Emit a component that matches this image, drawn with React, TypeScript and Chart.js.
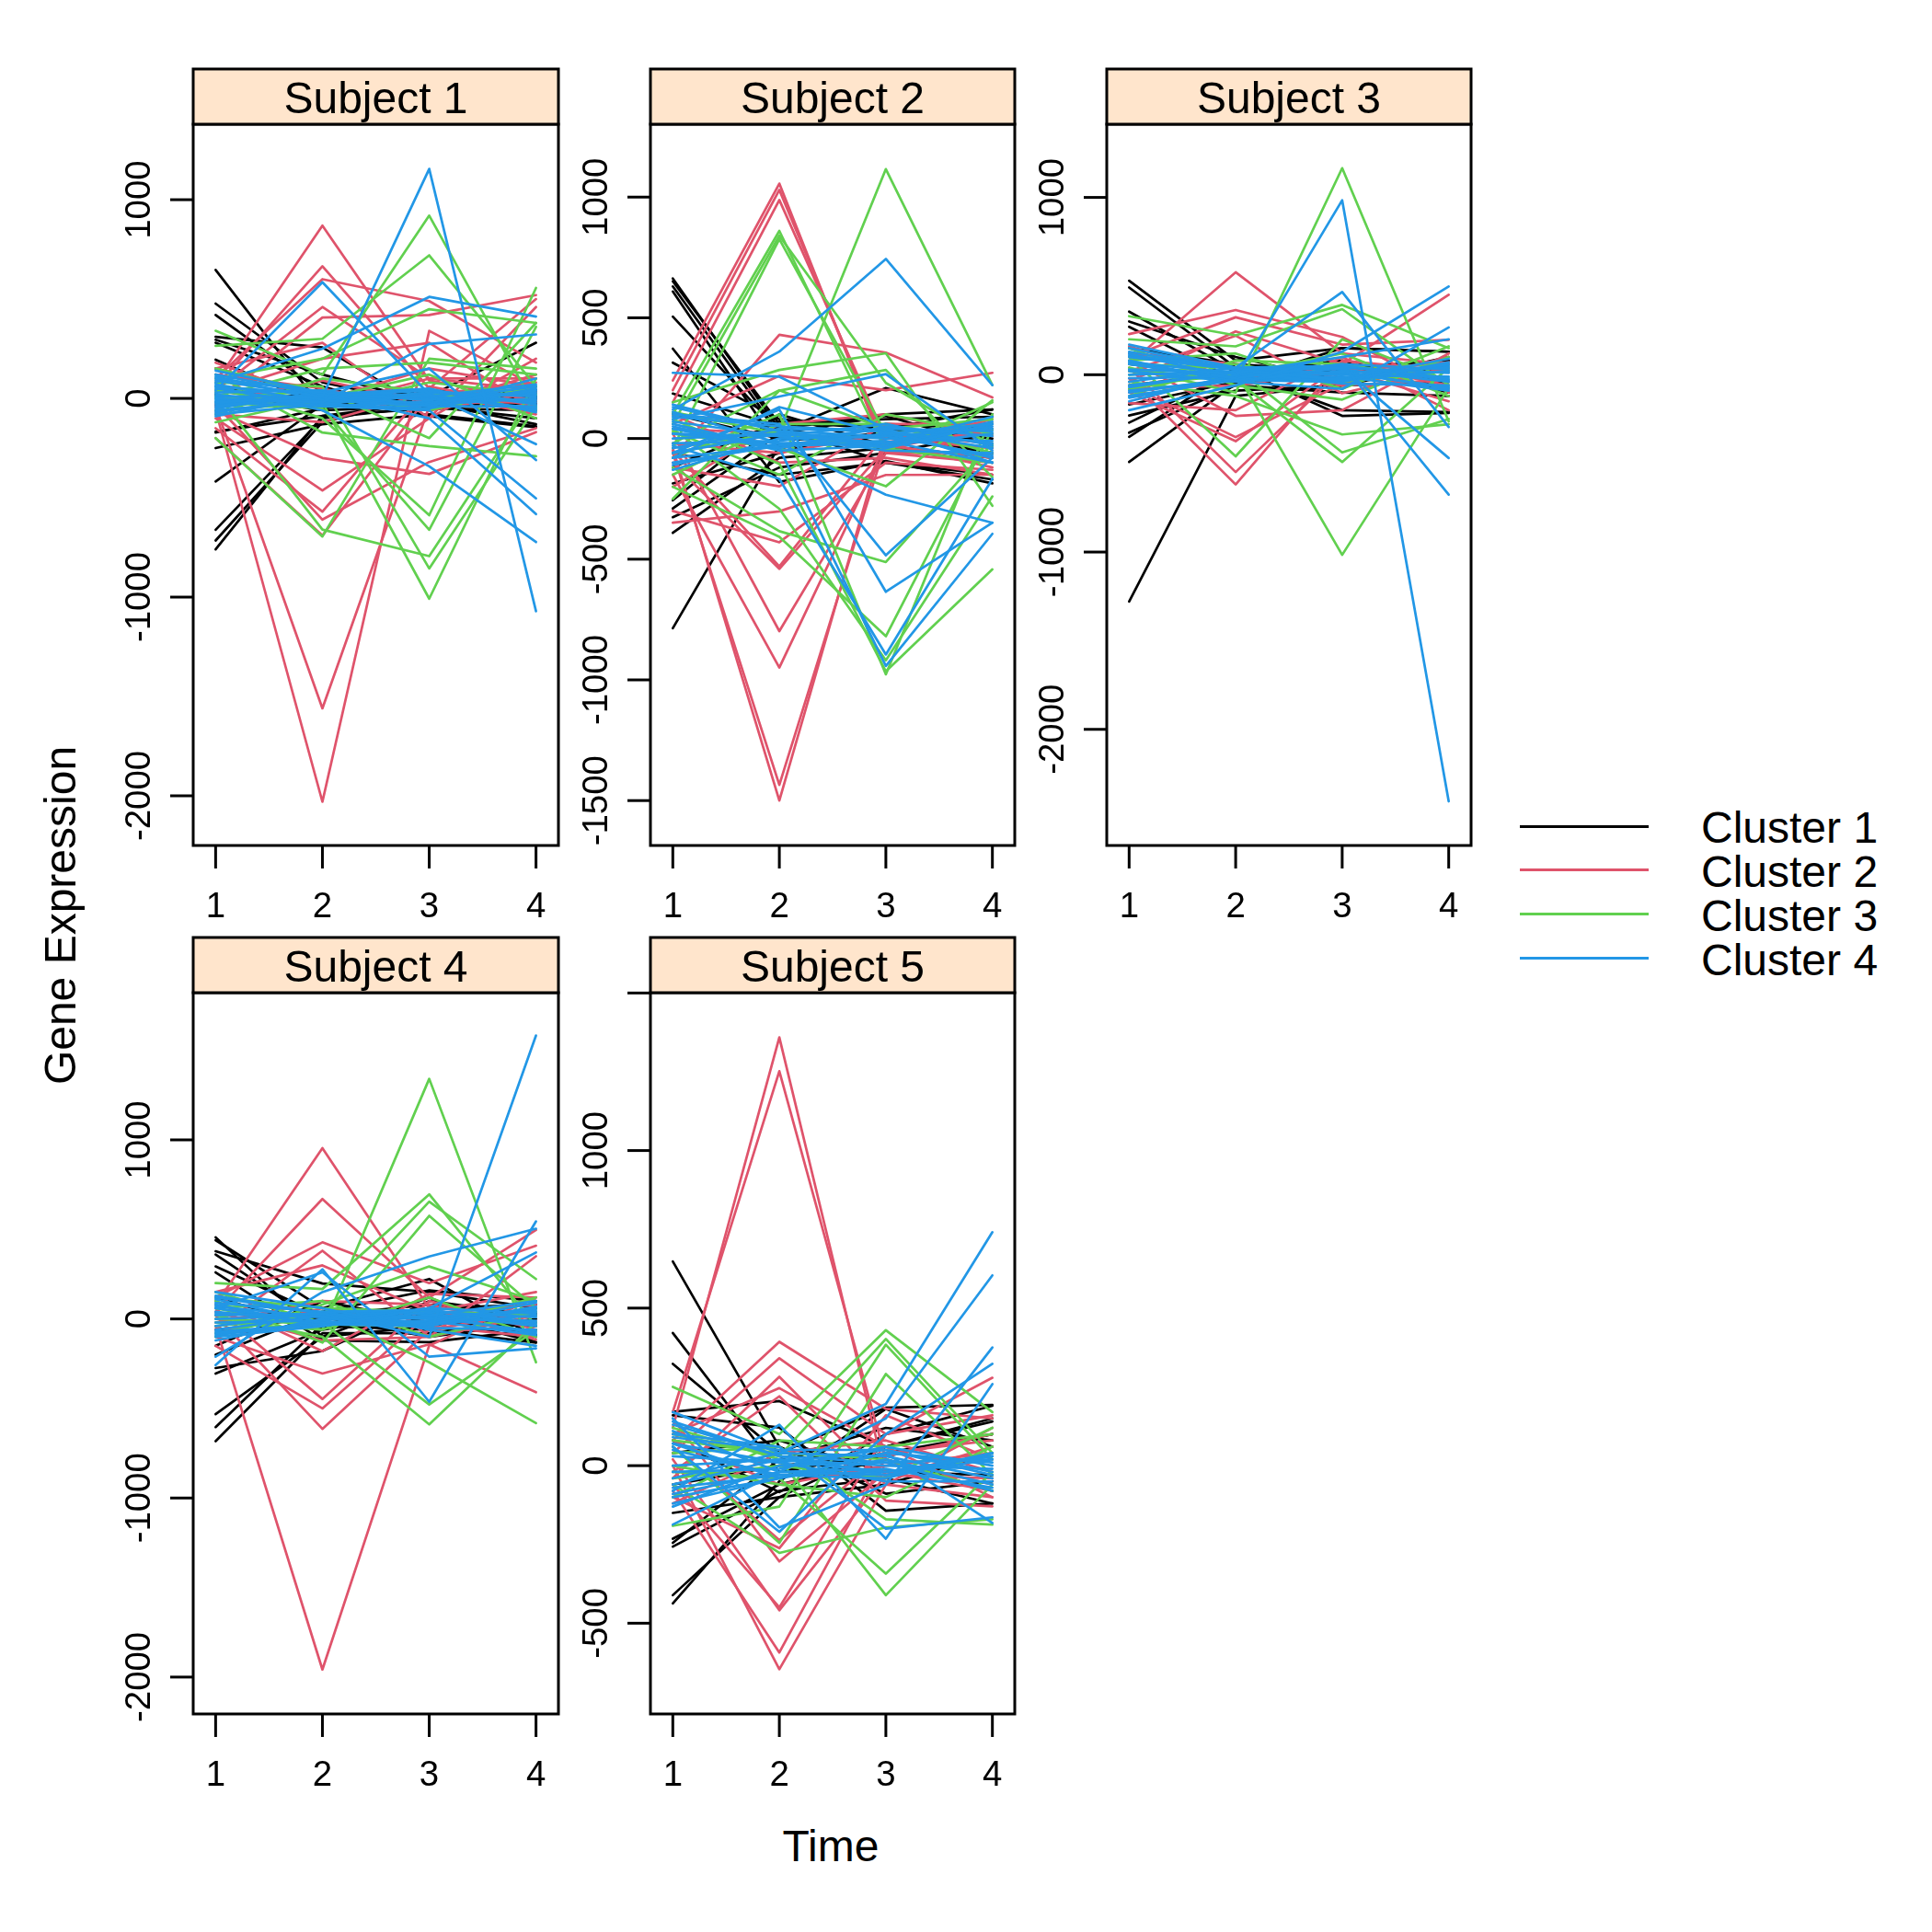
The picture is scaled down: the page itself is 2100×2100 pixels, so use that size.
import React, { useEffect, useRef } from "react";
import { Chart, registerables } from "chart.js";

Chart.register(...registerables);

// ---------------- data ----------------
const TIME_POINTS = [1, 2, 3, 4];
const CLUSTER_NAMES = ["Cluster 1", "Cluster 2", "Cluster 3", "Cluster 4"];
const CLUSTER_COLORS = ["#000000", "#DF536B", "#61D04F", "#2297E6"];
const SUBJECT_NAMES = ["Subject 1", "Subject 2", "Subject 3", "Subject 4", "Subject 5"];
const X_LABEL = "Time";
const Y_LABEL = "Gene Expression";

// Subject 1
const s1Cluster1 = [
  [647, -50, 20, -20], [477, 80, -30, 60], [420, 30, 10, 280], [310, 257, -60, 40],
  [295, 120, -20, -130], [280, 60, -90, -145], [195, -40, 30, 10], [150, 10, -10, -30],
  [60, -20, 40, 0], [-30, 30, -10, 20], [-167, -88, -50, -60], [-172, -50, 40, -10],
  [-250, -130, -80, -140], [-418, -30, 20, 40], [-661, -100, -40, -20], [-715, -120, 10, -60],
  [-760, -88, -20, 30], [20, -60, -40, -100],
];
const s1Cluster2 = [
  [-60, -2030, 340, 60], [-40, -1560, -40, 120], [80, 870, 90, -10], [60, 665, 50, 500],
  [100, 600, 490, 180], [40, 460, 100, 40], [-20, 407, 420, 520], [150, 280, -100, 460],
  [30, 200, 280, -60], [-60, -300, -380, -170], [-100, -463, -100, 200], [-150, -570, 60, -40],
  [-30, -610, -320, -150], [-200, -690, 20, 80], [120, 50, -60, 30], [-80, -120, 30, -80],
  [40, -40, 100, 100], [-20, 90, -20, -20], [180, -10, 150, 60],
];
const s1Cluster3 = [
  [340, 120, 920, -50], [265, 300, 720, 60], [100, 200, 449, 380], [60, -100, -588, 556],
  [-20, -50, -661, 360], [-200, -695, 200, 150], [30, -660, -794, 20], [80, 60, -856, -40],
  [-60, -20, -1008, 100], [120, -172, -240, -291], [0, 40, -200, 380], [-80, 100, 30, -60],
  [40, -40, 80, 20], [150, 20, -60, 60], [-120, 0, 120, -100], [10, 150, 180, 120],
];
const s1Cluster4 = [
  [40, 585, 20, -230], [-20, 10, 1155, -1071], [80, 250, 511, 412], [0, -20, 274, 322],
  [60, -60, -342, -723], [-40, 20, -100, -582], [20, -40, -60, -503], [100, 30, 150, -310],
  [-60, -10, -40, 100], [120, 20, -30, 40], [-80, -30, 20, -60], [90, 10, 40, -20],
  [-50, 30, -10, 60], [70, -20, 30, 10], [30, 40, -40, -40], [-30, 0, 10, 70],
  [110, -10, -20, 30], [-90, 20, 40, -30], [50, -30, -50, 50], [10, 10, 0, -10],
  [-10, -20, 30, 20], [140, 30, 10, -50], [-70, 0, -30, 0], [60, 20, 50, -70],
  [-20, -40, -20, 40],
];

// Subject 2
const s2Cluster1 = [
  [663, 40, 100, 120], [651, 60, 80, 90], [630, 20, -20, 40], [609, -40, 30, -60],
  [505, 30, 209, 100], [372, -180, -93, -186], [314, 80, 40, 120], [186, 50, -100, -150],
  [-186, -60, 60, 40], [-256, 100, -30, -80], [-290, 20, 93, -30], [-326, -120, -60, 20],
  [-391, -80, -40, -100], [-786, -30, 10, -60], [-60, -150, -100, -170], [100, 0, -20, 60],
  [-120, 70, 40, 0],
];
const s2Cluster2 = [
  [240, 1056, -60, -100], [200, 1030, -30, -80], [150, 988, 0, -40], [-80, 430, 356, 170],
  [60, 260, 200, 272], [-349, -302, -151, -150], [-300, -430, -100, -130], [-100, -540, -40, 40],
  [-50, -530, 20, -20], [20, -798, -60, -60], [-150, -949, -20, 20], [-60, -1435, -20, -120],
  [-40, -1500, 30, -80], [-120, -198, 60, 60], [100, -100, -80, -150], [-200, 60, 100, 10],
  [40, 20, -30, 80], [-20, -60, 20, -40],
];
const s2Cluster3 = [
  [100, 860, -50, 150], [60, 840, 230, -30], [-40, 826, 20, 60], [-60, 30, 1116, 221],
  [150, 284, 353, -279], [-250, 198, 284, -160], [-120, -384, -512, -20], [-200, -407, -819, 40],
  [40, -291, -919, -240], [80, -105, -965, -542], [-80, 100, -977, 100], [20, -40, -198, 158],
  [-150, 60, 60, -60], [30, -150, 100, 20], [110, 20, -40, -100], [-20, 200, 40, 80],
];
const s2Cluster4 = [
  [120, 360, 744, 221], [272, 256, 40, -100], [80, 174, 267, -50], [-30, -167, -895, -167],
  [40, -40, -942, -395], [-60, 120, -635, -349], [100, 60, -484, -80], [20, -20, -233, -349],
  [-80, 130, 20, 60], [130, 30, -40, 60], [-100, -30, 20, -80], [90, 50, 30, -20],
  [-60, 20, -20, 90], [60, -40, 50, 10], [20, 10, -50, -60], [-130, 0, 10, 40],
  [110, -20, -10, -100], [-40, 40, 30, -40], [50, -50, -30, 70], [0, 20, 0, -10],
  [-20, -10, 40, 30], [140, 30, 10, -70], [-110, -20, -30, 20], [70, 10, 60, -30],
  [-80, -30, -20, 50],
];

// Subject 3
const s3Cluster1 = [
  [530, 80, 150, 130], [492, 40, -232, -216], [356, 20, -200, -210], [300, 100, -40, 60],
  [270, -30, 60, -100], [150, 60, 20, 20], [-168, -40, 150, 130], [-230, -90, -60, -40],
  [-270, 20, 40, 80], [-327, -60, -100, -120], [-350, 40, -20, 40], [-492, -50, 30, -30],
  [-1279, -120, -60, 60], [60, -20, -30, 100], [-60, 10, 80, -60],
];
const s3Cluster2 = [
  [60, 578, 120, 60], [229, 365, 213, -100], [100, 324, 170, 197], [-40, 244, 60, 451],
  [20, 220, -105, 40], [-160, -200, 100, -200], [80, -232, -200, 120], [-100, -375, 60, -60],
  [-60, -352, -50, 100], [40, -549, 30, -150], [-20, -619, 80, 20], [120, 60, -60, -30],
  [-80, -60, 20, 70], [160, -20, 40, -80],
];
const s3Cluster3 = [
  [40, -100, 1165, -263], [330, 222, 394, 150], [200, 160, 370, -60], [100, -460, 200, -40],
  [-40, -120, -337, -279], [60, 40, -438, -250], [-80, 20, -1016, -73], [150, -60, -140, 100],
  [-120, 80, 60, -30], [20, -30, -492, 40], [80, 120, -80, 160], [-60, 0, 120, -120],
  [0, 60, -40, 20],
];
const s3Cluster4 = [
  [60, -20, 984, -2406], [170, 40, 467, -295], [-200, -60, 130, 498], [-130, -20, 60, -676],
  [100, 30, 40, -470], [20, -40, -80, 267], [-60, 10, 100, 200], [150, 30, -30, 60],
  [-120, -30, 20, -80], [110, 40, 50, -20], [-70, 20, -20, 90], [80, -40, 40, 10],
  [30, 10, -50, -60], [-150, 0, 10, 40], [120, -20, -10, -90], [-40, 40, 30, -40],
  [60, -30, -40, 70], [0, 20, 0, -10], [-20, -10, 60, 30], [130, 30, 10, -70],
  [-100, -20, -30, 20], [70, 10, 50, -30], [-90, -30, -20, 50],
];

// Subject 4
const s4Cluster1 = [
  [456, -100, 120, -130], [440, 60, 223, -100], [378, 198, 150, 60], [360, -40, -60, -132],
  [293, 20, 80, 30], [260, -120, -130, -60], [-274, -179, 100, 20], [-305, -60, 40, -90],
  [-532, -100, -40, 60], [-604, -30, 20, -130], [-683, -80, -80, 0], [-200, 40, 160, 100],
  [-150, 100, -20, -40], [120, -50, 60, 80], [-60, 10, -100, -20],
];
const s4Cluster2 = [
  [-40, -1958, -148, 120], [80, 954, 60, -116], [40, 670, 120, 497], [120, 428, 200, 409],
  [-60, 381, -100, 350], [150, 299, 40, 150], [-100, -305, -142, -409], [60, -447, 100, -60],
  [-150, -500, 30, 80], [20, -614, -60, 40], [100, -180, 140, 120], [-80, 60, -40, -100],
  [40, -120, -100, 20], [-20, 100, 80, -40],
];
const s4Cluster3 = [
  [60, -60, 1341, -242], [200, 167, 696, -40], [-40, 20, 655, 223], [100, -132, 576, 60],
  [-100, 80, 293, 100], [150, -20, -478, -60], [20, -100, -589, -20], [-80, 40, -242, -582],
  [60, 100, -100, 40], [-20, -60, 120, -100], [120, 60, 40, 20], [0, -30, -40, 120],
];
const s4Cluster4 = [
  [20, 30, -100, 1583], [-258, 277, -463, 545], [-211, 150, 349, 504], [60, 260, -211, -164],
  [-100, -40, 60, 371], [150, 60, -60, -150], [40, -20, 20, 100], [130, 30, -30, 60],
  [-80, -30, 20, -80], [90, 40, 50, -20], [-60, 20, -20, 90], [80, -40, 40, 10],
  [30, 10, -50, -60], [-120, 0, 10, 40], [110, -20, -10, -90], [-40, 40, 30, -40],
  [60, -30, -40, 70], [0, 20, 0, -10], [-20, -10, 60, 30], [120, 30, 10, -70],
  [-90, -20, -30, 20], [70, 10, 50, -30], [-70, -30, -20, 50],
];

// Subject 5
const s5Cluster1 = [
  [648, 60, -89, -50], [421, -20, 40, 100], [323, 40, 184, 193], [171, 205, 60, 150],
  [160, 121, -143, -120], [80, -84, 100, 190], [-150, -100, -60, 40], [-232, -60, 20, -80],
  [-245, 20, 120, 80], [-257, -80, -40, -120], [-411, -100, 60, 140], [-437, -50, 180, 60],
  [40, 80, -20, -30], [-60, 0, 30, 100],
];
const s5Cluster2 = [
  [120, 1359, -40, 60], [170, 1252, 20, -60], [80, 393, 180, 150], [40, 341, 100, 279],
  [-40, 282, -60, 120], [100, 246, 60, -100], [-20, 220, -111, -129], [60, -236, 40, 80],
  [-100, -262, 160, 20], [150, -304, -20, -80], [-60, -450, 100, 160], [20, -459, -30, -40],
  [-80, -593, 30, 100], [0, -646, -60, -100], [80, -60, 0, 40], [-120, 40, 80, -20],
];
const s5Cluster3 = [
  [250, 100, 430, 170], [100, 30, 402, 40], [-191, -130, 384, 20], [60, -245, 291, -30],
  [-60, -277, -196, -170], [40, 60, -170, -187], [-20, -40, -343, -20], [120, 20, -411, -60],
  [-100, 80, 60, 100], [0, -60, -100, 60], [80, 40, 20, -80], [-40, 0, -40, 120],
];
const s5Cluster4 = [
  [170, 40, 196, 741], [-187, -20, 150, 604], [150, -196, -60, 375], [60, -210, 100, 323],
  [-80, 130, -232, 259], [100, 60, -200, -164], [-120, -40, 40, -182], [130, 30, -30, 40],
  [-100, -40, 20, -60], [90, 50, 50, -20], [-60, 20, -20, 30], [70, -40, 40, 10],
  [30, 10, -50, -50], [-130, 0, 10, 20], [110, -20, -10, -70], [-40, 40, 30, -40],
  [50, -30, -40, 40], [0, 20, 0, -10], [-20, -10, 60, 0], [140, 30, 10, -80],
  [-90, -20, -30, 20], [70, 10, 50, -30], [-70, -30, -20, 30],
];

// y axis ticks per subject
const Y_TICKS_S1 = [-2000, -1000, 0, 1000];
const Y_TICKS_S2 = [-1500, -1000, -500, 0, 500, 1000];
const Y_TICKS_S3 = [-2000, -1000, 0, 1000];
const Y_TICKS_S4 = [-2000, -1000, 0, 1000];
const Y_TICKS_S5 = [-500, 0, 500, 1000, 1500];
const Y_TICK_LABELS_S1 = ["-2000", "-1000", "0", "1000"];
const Y_TICK_LABELS_S2 = ["-1500", "-1000", "-500", "0", "500", "1000"];
const Y_TICK_LABELS_S3 = ["-2000", "-1000", "0", "1000"];
const Y_TICK_LABELS_S4 = ["-2000", "-1000", "0", "1000"];
const Y_TICK_LABELS_S5 = ["-500", "0", "500", "1000", ""];

// y limits per subject (data range with 7% padding)
const Y_LIMITS_S1 = [-2250, 1380];
const Y_LIMITS_S2 = [-1686, 1302];
const Y_LIMITS_S3 = [-2655, 1413];
const Y_LIMITS_S4 = [-2206, 1822];
const Y_LIMITS_S5 = [-788, 1501];
const X_LIMITS = [0.79, 4.21];

const SUBJECT_CLUSTERS = [
  [s1Cluster1, s1Cluster2, s1Cluster3, s1Cluster4],
  [s2Cluster1, s2Cluster2, s2Cluster3, s2Cluster4],
  [s3Cluster1, s3Cluster2, s3Cluster3, s3Cluster4],
  [s4Cluster1, s4Cluster2, s4Cluster3, s4Cluster4],
  [s5Cluster1, s5Cluster2, s5Cluster3, s5Cluster4],
];
const SUBJECT_Y_TICKS = [Y_TICKS_S1, Y_TICKS_S2, Y_TICKS_S3, Y_TICKS_S4, Y_TICKS_S5];
const SUBJECT_Y_TICK_LABELS = [Y_TICK_LABELS_S1, Y_TICK_LABELS_S2, Y_TICK_LABELS_S3, Y_TICK_LABELS_S4, Y_TICK_LABELS_S5];
const SUBJECT_Y_LIMITS = [Y_LIMITS_S1, Y_LIMITS_S2, Y_LIMITS_S3, Y_LIMITS_S4, Y_LIMITS_S5];

// ---------------- layout ----------------
const FONT = '"Liberation Sans", Arial, Helvetica, sans-serif';
const PANEL_BOXES = [
  { left: 210, right: 607, stripTop: 75, top: 135, bottom: 919 },
  { left: 707, right: 1103, stripTop: 75, top: 135, bottom: 919 },
  { left: 1203, right: 1599, stripTop: 75, top: 135, bottom: 919 },
  { left: 210, right: 607, stripTop: 1019, top: 1079, bottom: 1863 },
  { left: 707, right: 1103, stripTop: 1019, top: 1079, bottom: 1863 },
];
const PAD_L = 120;
const PAD_R = 20;
const PAD_T_EXTRA = 10;
const PAD_B = 90;

function makeDecorPlugin(name: string, yTicks: number[], yLabels: string[], stripH: number) {
  return {
    id: "panelDecor",
    afterDatasetsDraw(chart: any) {
      const { ctx, chartArea: a, scales } = chart;
      const xs = scales.x;
      const ys = scales.y;
      ctx.save();
      ctx.strokeStyle = "#000000";
      ctx.fillStyle = "#000000";
      ctx.lineWidth = 3;
      ctx.lineCap = "butt";
      // frame
      ctx.strokeRect(a.left, a.top, a.right - a.left, a.bottom - a.top);
      // strip
      ctx.fillStyle = "#FFE5CC";
      ctx.fillRect(a.left, a.top - stripH, a.right - a.left, stripH);
      ctx.strokeRect(a.left, a.top - stripH, a.right - a.left, stripH);
      ctx.fillStyle = "#000000";
      ctx.font = `48px ${FONT}`;
      ctx.textAlign = "center";
      ctx.textBaseline = "alphabetic";
      ctx.fillText(name, (a.left + a.right) / 2, a.top - stripH + 48);
      // y ticks
      ctx.font = `38.4px ${FONT}`;
      yTicks.forEach((v, i) => {
        const y = ys.getPixelForValue(v);
        ctx.beginPath();
        ctx.moveTo(a.left - 25, y);
        ctx.lineTo(a.left, y);
        ctx.stroke();
        const lab = yLabels[i];
        if (lab) {
          ctx.save();
          ctx.translate(a.left - 47, y);
          ctx.rotate(-Math.PI / 2);
          ctx.textAlign = "center";
          ctx.fillText(lab, 0, 0);
          ctx.restore();
        }
      });
      // x ticks
      TIME_POINTS.forEach((t) => {
        const x = xs.getPixelForValue(t);
        ctx.beginPath();
        ctx.moveTo(x, a.bottom);
        ctx.lineTo(x, a.bottom + 25);
        ctx.stroke();
        ctx.textAlign = "center";
        ctx.fillText(String(t), x, a.bottom + 78);
      });
      ctx.restore();
    },
  };
}

function Panel({ index }: { index: number }) {
  const ref = useRef<HTMLCanvasElement | null>(null);
  const box = PANEL_BOXES[index];
  const cw = box.right - box.left + PAD_L + PAD_R;
  const ch = box.bottom - box.stripTop + PAD_T_EXTRA + PAD_B;
  const padTop = box.top - box.stripTop + PAD_T_EXTRA;

  useEffect(() => {
    if (!ref.current) return;
    const clusters = SUBJECT_CLUSTERS[index];
    const datasets: any[] = [];
    clusters.forEach((lines, ci) => {
      lines.forEach((vals, li) => {
        datasets.push({
          label: `${CLUSTER_NAMES[ci]} gene ${li + 1}`,
          data: TIME_POINTS.map((t, k) => ({ x: t, y: vals[k] })),
          borderColor: CLUSTER_COLORS[ci],
          backgroundColor: CLUSTER_COLORS[ci],
          borderWidth: 2.7,
          pointRadius: 0,
          fill: false,
          tension: 0,
          borderJoinStyle: "round",
          borderCapStyle: "round",
          order: 4 - ci,
        });
      });
    });
    const lim = SUBJECT_Y_LIMITS[index];
    const chart = new Chart(ref.current, {
      type: "line",
      data: { datasets },
      options: {
        animation: false,
        responsive: false,
        devicePixelRatio: 1,
        events: [],
        layout: { padding: { left: PAD_L, right: PAD_R, top: padTop, bottom: PAD_B } },
        plugins: { legend: { display: false }, tooltip: { enabled: false } },
        scales: {
          x: { type: "linear", min: X_LIMITS[0], max: X_LIMITS[1], display: false },
          y: { type: "linear", min: lim[0], max: lim[1], display: false },
        },
      },
      plugins: [
        makeDecorPlugin(
          SUBJECT_NAMES[index],
          SUBJECT_Y_TICKS[index],
          SUBJECT_Y_TICK_LABELS[index],
          box.top - box.stripTop
        ),
      ],
    } as any);
    return () => chart.destroy();
  }, [index]);

  return (
    <canvas
      ref={ref}
      width={cw}
      height={ch}
      style={{
        position: "absolute",
        left: box.left - PAD_L,
        top: box.stripTop - PAD_T_EXTRA,
        width: cw,
        height: ch,
      }}
    />
  );
}

const LEGEND_LINE_X0 = 1652;
const LEGEND_LINE_X1 = 1792;
const LEGEND_TEXT_X = 1849;
const LEGEND_Y0 = 898;
const LEGEND_DY = 47.7;

export default function App() {
  const textStyle: React.CSSProperties = {
    position: "absolute",
    fontFamily: FONT,
    fontSize: 48,
    lineHeight: "48px",
    color: "#000",
    whiteSpace: "nowrap",
  };
  return (
    <div
      style={{
        position: "absolute",
        left: 0,
        top: 0,
        width: 2100,
        height: 2100,
        background: "#ffffff",
        overflow: "hidden",
      }}
    >
      {SUBJECT_NAMES.map((_, i) => (
        <Panel key={i} index={i} />
      ))}
      {/* x label */}
      <div style={{ ...textStyle, left: 703, width: 400, textAlign: "center", top: 2024 - 40.6 }}>{X_LABEL}</div>
      {/* y label */}
      <div
        style={{
          ...textStyle,
          left: 66 - 300,
          width: 600,
          top: 995 - 24,
          height: 48,
          textAlign: "center",
          transform: "rotate(-90deg)",
          transformOrigin: "50% 50%",
        }}
      >
        {Y_LABEL}
      </div>
      {/* legend */}
      {CLUSTER_NAMES.map((nm, i) => {
        const y = LEGEND_Y0 + i * LEGEND_DY;
        return (
          <React.Fragment key={nm}>
            <div
              style={{
                position: "absolute",
                left: LEGEND_LINE_X0,
                width: LEGEND_LINE_X1 - LEGEND_LINE_X0,
                top: y - 1.5,
                height: 3,
                background: CLUSTER_COLORS[i],
              }}
            />
            <div style={{ ...textStyle, left: LEGEND_TEXT_X, top: y + 19 - 40.6 }}>{nm}</div>
          </React.Fragment>
        );
      })}
    </div>
  );
}
